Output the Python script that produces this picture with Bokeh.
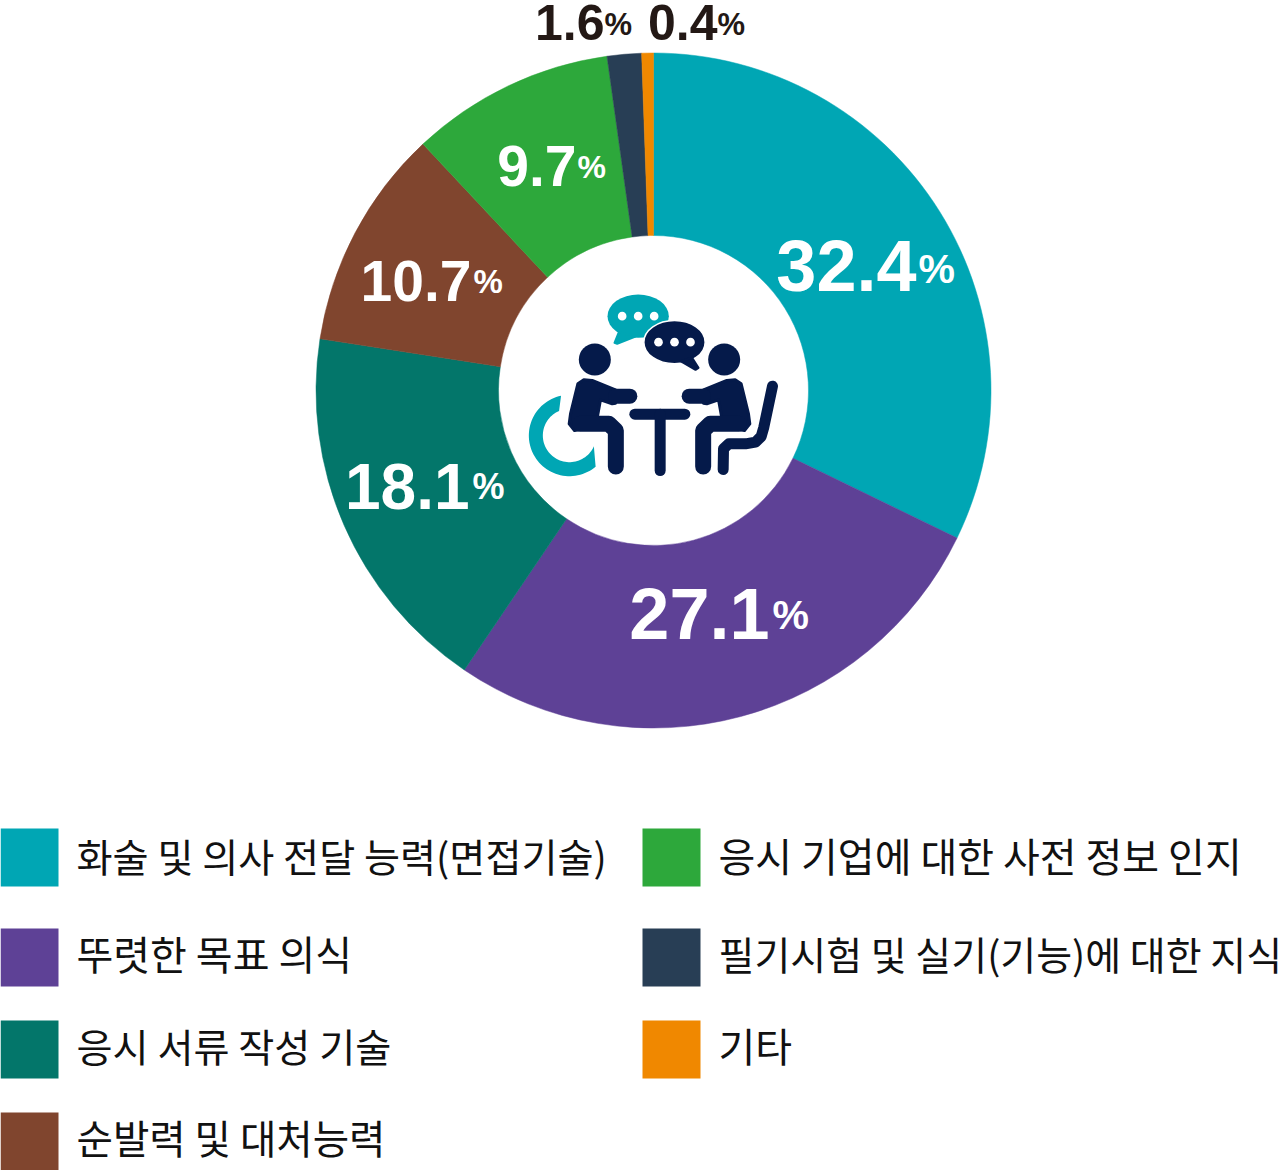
import numpy as np
from bokeh.plotting import figure
from bokeh.models import Range1d
from bokeh.embed import file_html
from bokeh.resources import INLINE
from bokeh.core.properties import value

categories = ["화술 및 의사 전달 능력(면접기술)", "뚜렷한 목표 의식", "응시 서류 작성 기술", "순발력 및 대처능력",
              "응시 기업에 대한 사전 정보 인지", "필기시험 및 실기(기능)에 대한 지식", "기타"]
# printed labels, and the slice sizes as actually drawn in the picture (they differ a little)
number_labels = ["32.4", "27.1", "18.1", "10.7", "9.7", "1.6", "0.4"]
drawn_shares = [32.2, 27.27, 17.98, 10.58, 9.77, 1.64, 0.56]
colors = ["#00A6B4", "#5E4196", "#03766A", "#80452E", "#2DA83B", "#283E55", "#F08800"]

W, H = 1280, 1170
CX, CY, R_OUT, R_IN = 653, 390, 337.5, 155
NAVY, TEAL, INK = "#051A4A", "#00A6B4", "#231815"
NUM_FONT = "Liberation Sans"
BASE_SHIFT = 0.37


def Y(py):
    return H - np.asarray(py, dtype=float)


p = figure(width=W, height=H, x_range=Range1d(0, W), y_range=Range1d(0, H),
           toolbar_location=None, output_backend="svg", min_border=0)
p.styles = {"position": "absolute", "left": "0px", "top": "0px"}
p.xaxis.visible = False
p.yaxis.visible = False
p.xgrid.visible = False
p.ygrid.visible = False
p.outline_line_color = None

# donut
frac = np.array(drawn_shares) / sum(drawn_shares)
edges = np.concatenate([[0], np.cumsum(frac)])
starts = np.pi / 2 - edges[:-1] * 2 * np.pi
ends = np.pi / 2 - edges[1:] * 2 * np.pi
p.annular_wedge(x=CX, y=Y(CY), inner_radius=R_IN, outer_radius=R_OUT,
                start_angle=starts, end_angle=ends, direction="clock",
                fill_color=colors, line_color=colors, line_width=0.5)

# value labels: right edge of number, baseline, number size, % left edge, % baseline, % size, colour
label_pos = [(916, 292, 72, 918, 284, 41, "#ffffff"), (769, 640, 72, 772, 630, 41, "#ffffff"),
             (469, 510, 64, 472, 499, 36, "#ffffff"), (471, 302, 57, 473, 293, 33, "#ffffff"),
             (576, 187, 57, 577, 178, 32, "#ffffff"), (604, 40, 50, 604, 35, 31, INK),
             (717, 40, 50, 717, 35, 31, INK)]
for lab, (xr, base, fs, xp, bp, fsp, col) in zip(number_labels, label_pos):
    p.text(x=[xr], y=Y([base - BASE_SHIFT * fs]), text=[lab], text_font=value(NUM_FONT), text_font_style="bold",
           text_font_size=f"{fs}px", text_color=col, text_align="right", text_baseline="alphabetic")
    p.text(x=[xp], y=Y([bp - BASE_SHIFT * fsp]), text=["%"], text_font=value(NUM_FONT), text_font_style="bold",
           text_font_size=f"{fsp}px", text_color=col, text_align="left", text_baseline="alphabetic")

# legend
sw_x = [0, 0, 0, 0, 642, 642, 642]
sw_y = [828, 928, 1020, 1112, 828, 928, 1020]
SW = 58
tx_y = [854, 952, 1044, 1136, 854, 952, 1044]
tx_size = [39.2, 40, 39.2, 39.6, 40, 39, 40]
for i, cat in enumerate(categories):
    p.quad(left=[sw_x[i]], right=[sw_x[i] + SW], top=Y([sw_y[i]]), bottom=Y([sw_y[i] + SW]),
           fill_color=colors[i], line_color=None)
    p.text(x=[sw_x[i] + 76], y=Y([tx_y[i]]), text=[cat], text_font=value("Noto Sans CJK KR"),
           text_font_size=f"{tx_size[i]}px", text_color="#111111", text_align="left", text_baseline="middle")


# central icon, traced in zoom-crop coordinates
def ix(zx):
    return 500 + np.asarray(zx, dtype=float) / 3


def iy(zy):
    return Y(270 + np.asarray(zy, dtype=float) / 3)


def bubble(cx, cy, tail, col, edge):
    p.ellipse(x=[ix(cx)], y=[iy(cy)], width=184 / 3, height=130 / 3, fill_color=col,
              line_color=edge, line_width=1.5)
    xs, ys = zip(*tail)
    p.patch(ix(xs), iy(ys), fill_color=col, line_color=col, line_width=2, line_join="round")
    p.scatter(x=ix([cx - 48, cx, cx + 48]), y=iy([cy] * 3), size=26 / 3, marker="circle",
              fill_color="#ffffff", line_color=None)


bubble(413, 137, [(355, 185), (342, 217), (350, 220), (405, 198)], TEAL, None)
bubble(522, 215, [(540, 272), (585, 298), (594, 292), (575, 262)], NAVY, "#ffffff")

torso = [(232, 340), (250, 328), (275, 330), (345, 358), (345, 398), (335, 400), (300, 388), (285, 470), (222, 480),
         (206, 460), (210, 430)]
for mirror in (False, True):
    mx = (lambda a: 954 - a) if mirror else (lambda a: a)
    p.patch(ix([mx(a) for a, _ in torso]), iy([b for _, b in torso]), fill_color=NAVY, line_color=NAVY,
            line_width=3, line_join="round")
    p.line(ix([mx(345), mx(388)]), iy([377, 377]), line_color=NAVY, line_width=15, line_cap="round")
    p.line(ix([mx(240), mx(325), mx(346), mx(346)]), iy([460, 460, 480, 588]), line_color=NAVY, line_width=16,
           line_cap="round", line_join="round")
    p.circle(x=[ix(mx(283))], y=[iy(267)], radius=16, fill_color=NAVY, line_color=None)

p.line(ix([403, 553]), iy([431, 431]), line_color=NAVY, line_width=11, line_cap="round")
p.line(ix([479, 479]), iy([431, 600]), line_color=NAVY, line_width=11, line_cap="round")
p.line(ix([816, 790, 782, 765, 735, 685, 669, 668]), iy([347, 470, 498, 515, 520, 520, 535, 597]),
       line_color=NAVY, line_width=11, line_cap="round", line_join="round")

# wheelchair wheel
th_o = np.radians(np.linspace(102, 310, 60))
th_i = np.radians(np.linspace(336, 113, 60))
wx = np.concatenate([207 + 122 * np.cos(th_o), 207 + 80 * np.cos(th_i)])
wy = np.concatenate([495 - 122 * np.sin(th_o), 495 - 80 * np.sin(th_i)])
p.patch(ix(wx), iy(wy), fill_color=TEAL, line_color=None)

open("out.html", "w").write(file_html(p, INLINE))
